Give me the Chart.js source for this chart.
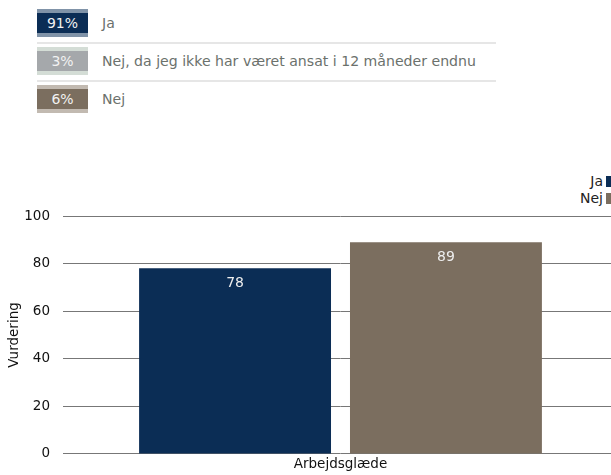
<!DOCTYPE html>
<html>
<head>
<meta charset="utf-8">
<script src="https://cdn.jsdelivr.net/npm/chart.js@4/dist/chart.umd.min.js"></script>
<style>
  html, body { margin: 0; padding: 0; background: #fff; overflow: hidden; width: 611px; height: 475px; }
  #svar { position: absolute; left: 37px; top: 9px; width: 459px; font-family: "DejaVu Sans", sans-serif; }
  .raekke { display: flex; align-items: center; height: 28px; }
  .sep { height: 2px; background: #e6e6e6; margin: 5px 0 3px 0; }
  .boks { width: 51px; height: 20px; line-height: 20px; text-align: center; font-size: 14px; color: #f2f2f2; border-top: 4px solid; border-bottom: 4px solid; box-sizing: content-box; flex: none; }
  .tekst { margin-left: 14px; font-size: 14.1px; color: #6b716c; white-space: nowrap; }
  #forklaring { position: absolute; right: 0; top: 173px; font-family: "DejaVu Sans", sans-serif; font-size: 14px; color: #222; text-align: right; }
  #forklaring div { height: 17px; line-height: 17px; }
  #forklaring span { display: inline-block; width: 5px; height: 11px; margin-left: 3px; vertical-align: -1px; }
  #wrap { position: absolute; left: 0; top: 160px; width: 618px; height: 315px; }
</style>
</head>
<body>
<div id="svar"></div>
<div id="forklaring"></div>
<div id="wrap"><canvas id="graf"></canvas></div>
<script>
// spoergsmaal i toppen
const svarTekster = ['Ja', 'Nej, da jeg ikke har været ansat i 12 måneder endnu', 'Nej'];
const svarProcent = [91, 3, 6];
const svarFarve = ['#0b2d55', '#a5a8ab', '#7b6e5f'];
const svarKant = ['#8093a8', '#d4ddd6', '#c2bab1'];

// graf
const kategorier = ['Arbejdsglæde'];
const serieNavne = ['Ja', 'Nej'];
const jaVaerdier = [78];
const nejVaerdier = [89];
const serieFarver = ['#0b2d55', '#7b6e5f'];
const yTicks = [0, 20, 40, 60, 80, 100];

const $svar = document.getElementById('svar');
for (var i in svarTekster) {
    if (i > 0) {
        const sep = document.createElement('div');
        sep.className = 'sep';
        $svar.appendChild(sep);
    }
    const r = document.createElement('div');
    r.className = 'raekke';
    r.innerHTML = '<div class="boks" style="background:' + svarFarve[i] + ';border-color:' + svarKant[i] + '">' +
        svarProcent[i] + '%</div><div class="tekst">' + svarTekster[i] + '</div>';
    $svar.appendChild(r);
}

const $forklaring = document.getElementById('forklaring');
for (var j in serieNavne) {
    const d = document.createElement('div');
    d.innerHTML = serieNavne[j] + '<span style="background:' + serieFarver[j] + '"></span>';
    $forklaring.appendChild(d);
}

// tal inde i soejlerne
const vaerdiEtiketter = {
    id: 'vaerdiEtiketter',
    afterDatasetsDraw(chart) {
        const ctx = chart.ctx;
        ctx.save();
        ctx.font = '14px "DejaVu Sans"';
        ctx.fillStyle = '#eeeeee';
        ctx.textAlign = 'center';
        ctx.textBaseline = 'middle';
        chart.data.datasets.forEach(function (ds, di) {
            chart.getDatasetMeta(di).data.forEach(function (bar, k) {
                ctx.fillText(ds.data[k], bar.x, bar.y + 15);
            });
        });
        ctx.restore();
    }
};

new Chart(document.getElementById('graf'), {
    type: 'bar',
    data: {
        labels: kategorier,
        datasets: [
            { label: serieNavne[0], data: jaVaerdier, backgroundColor: serieFarver[0] },
            { label: serieNavne[1], data: nejVaerdier, backgroundColor: serieFarver[1] }
        ]
    },
    plugins: [vaerdiEtiketter],
    options: {
        responsive: true,
        maintainAspectRatio: false,
        animation: false,
        layout: { padding: { top: 56, right: 0, left: 0, bottom: 0 } },
        categoryPercentage: 0.76,
        barPercentage: 0.91,
        plugins: { legend: { display: false }, tooltip: { enabled: false } },
        scales: {
            x: {
                grid: { display: false, drawTicks: false },
                border: { display: false },
                ticks: { color: '#111', padding: 2, font: { family: 'DejaVu Sans', size: 13.5 } },
                afterFit(s) { s.height = 20; }
            },
            y: {
                min: 0,
                max: 100,
                afterBuildTicks(s) { s.ticks = yTicks.map(v => ({ value: v })); },
                grid: { color: '#777', drawTicks: false },
                border: { display: false },
                ticks: { color: '#111', padding: 13, font: { family: 'DejaVu Sans', size: 13.5 } },
                title: { display: true, text: 'Vurdering', color: '#111', padding: { top: 6, bottom: 0 }, font: { family: 'DejaVu Sans', size: 13.5 } },
                afterFit(s) { s.width = 63; }
            }
        }
    }
});
</script>
</body>
</html>
